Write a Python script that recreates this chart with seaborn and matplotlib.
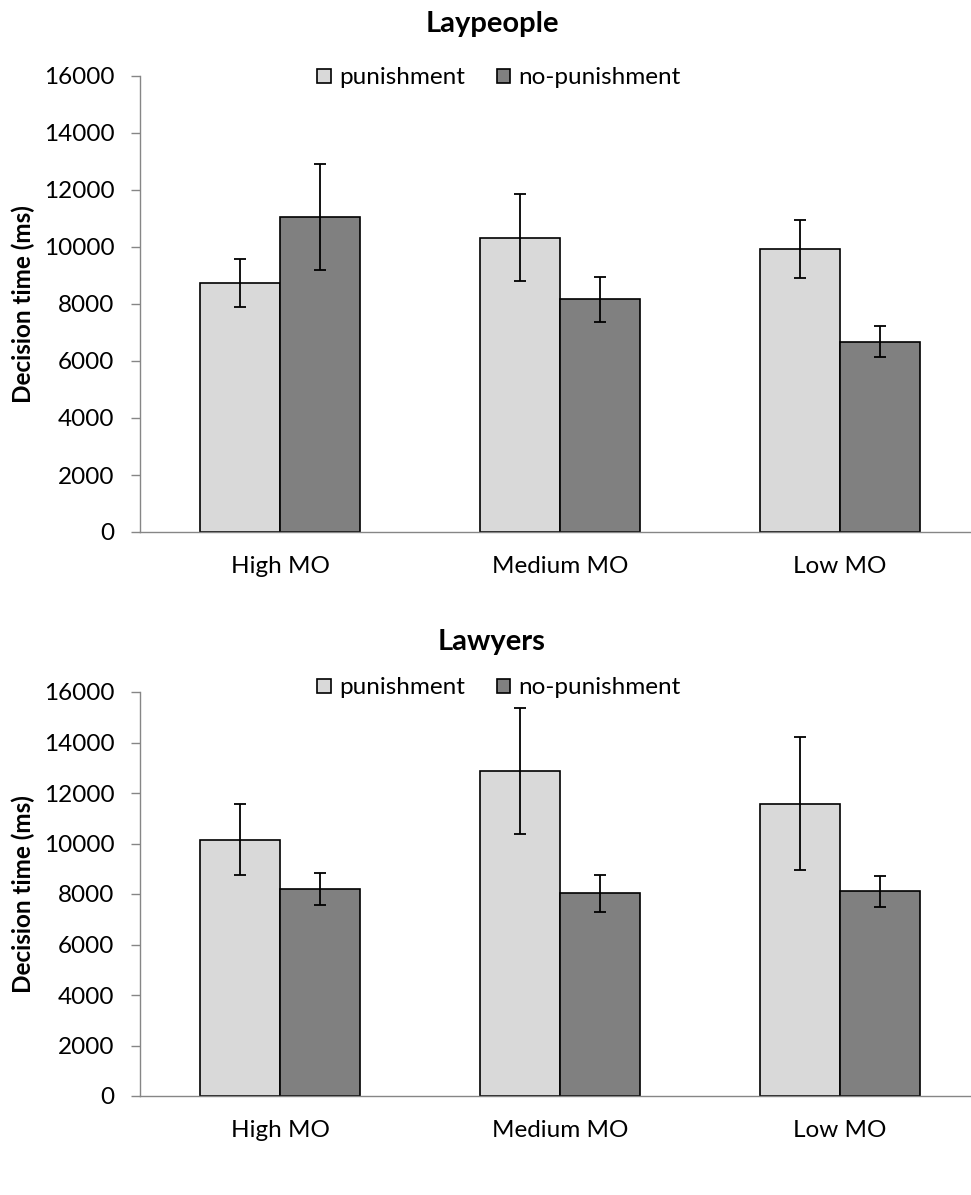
import matplotlib
matplotlib.use("Agg")
import matplotlib.pyplot as plt
import seaborn as sns
import pandas as pd
import numpy as np
from matplotlib.patches import Patch

categories = ["High MO", "Medium MO", "Low MO"]
conditions = ["punishment", "no-punishment"]

lay_pun = [8730, 10320, 9930]
lay_nopun = [11050, 8160, 6680]
lay_pun_err = [850, 1530, 1030]
lay_nopun_err = [1860, 785, 545]

law_pun = [10150, 12870, 11580]
law_nopun = [8200, 8020, 8100]
law_pun_err = [1400, 2480, 2630]
law_nopun_err = [635, 715, 630]

yticks = [0, 2000, 4000, 6000, 8000, 10000, 12000, 14000, 16000]
colors = ["#d9d9d9", "#808080"]

sns.set_theme(style="white")
plt.rcParams['font.family'] = ['Lato', 'DejaVu Sans']
plt.rcParams['text.color'] = 'black'
plt.rcParams['axes.labelcolor'] = 'black'
plt.rcParams['xtick.labelcolor'] = 'black'
plt.rcParams['ytick.labelcolor'] = 'black'

fig = plt.figure(figsize=(9.71, 11.95), dpi=100)
W, H = 971, 1195
FS = 17.5

def make_panel(rect, title, pun, nopun, pun_err, nopun_err, title_y, legend_y):
    ax = fig.add_axes(rect)
    df = pd.DataFrame({
        "cat": categories * 2,
        "cond": [conditions[0]] * 3 + [conditions[1]] * 3,
        "val": list(pun) + list(nopun),
    })
    sns.barplot(data=df, x="cat", y="val", hue="cond", order=categories,
                hue_order=conditions, palette=colors, width=0.571,
                edgecolor="black", linewidth=1.2, errorbar=None, ax=ax,
                legend=False, saturation=1)
    errs = [pun_err, nopun_err]
    for cont, err in zip(ax.containers, errs):
        xs = [p.get_x() + p.get_width() / 2 for p in cont.patches]
        hs = [p.get_height() for p in cont.patches]
        ax.errorbar(xs, hs, yerr=err, fmt="none", ecolor="black",
                    elinewidth=1.3, capsize=4, capthick=1.3)
    ax.set_ylim(0, 16000)
    ax.set_xlim(-0.5, 2.5)
    ax.set_yticks(yticks)
    ax.set_yticklabels([str(t) for t in yticks], fontsize=FS)
    ax.set_xlabel("")
    ax.set_ylabel("Decision time (ms)", fontsize=FS, fontweight="bold", color="black")
    ax.yaxis.set_label_coords((35 - 140) / 840, 0.5)
    ax.tick_params(axis="x", length=0, labelsize=FS, pad=17, labelcolor="black")
    ax.set_xticks([-0.5, 0.5, 1.5, 2.5], minor=True)
    ax.tick_params(axis="x", which="minor", length=6, color="#868686", direction="out", width=1)
    ax.tick_params(axis="y", length=6.5, color="#868686", direction="out", width=1, left=True,
                   pad=12, labelcolor="black")
    for s in ["top", "right"]:
        ax.spines[s].set_visible(False)
    for s in ["left", "bottom"]:
        ax.spines[s].set_color("#868686")
        ax.spines[s].set_linewidth(1)
    fig.text(492 / W, 1 - title_y / H, title, ha="center", va="center",
             fontsize=21, fontweight="bold", color="black")
    handles = [Patch(facecolor=c, edgecolor="black", linewidth=1.2) for c in colors]
    leg = ax.legend(handles, conditions, loc="center", bbox_to_anchor=(499 / W, 1 - legend_y / H),
                    bbox_transform=fig.transFigure, ncol=2, frameon=False, fontsize=FS,
                    handlelength=0.55, handleheight=0.55, handletextpad=0.35, columnspacing=1.3,
                    borderpad=0.1)
    for t in leg.get_texts():
        t.set_color("black")
    return ax

make_panel([140 / W, (H - 532) / H, 840 / W, 456 / H], "Laypeople",
           lay_pun, lay_nopun, lay_pun_err, lay_nopun_err, 24, 78)
make_panel([140 / W, (H - 1096) / H, 840 / W, 404 / H], "Lawyers",
           law_pun, law_nopun, law_pun_err, law_nopun_err, 642, 688)

fig.savefig("out.png", dpi=100)
